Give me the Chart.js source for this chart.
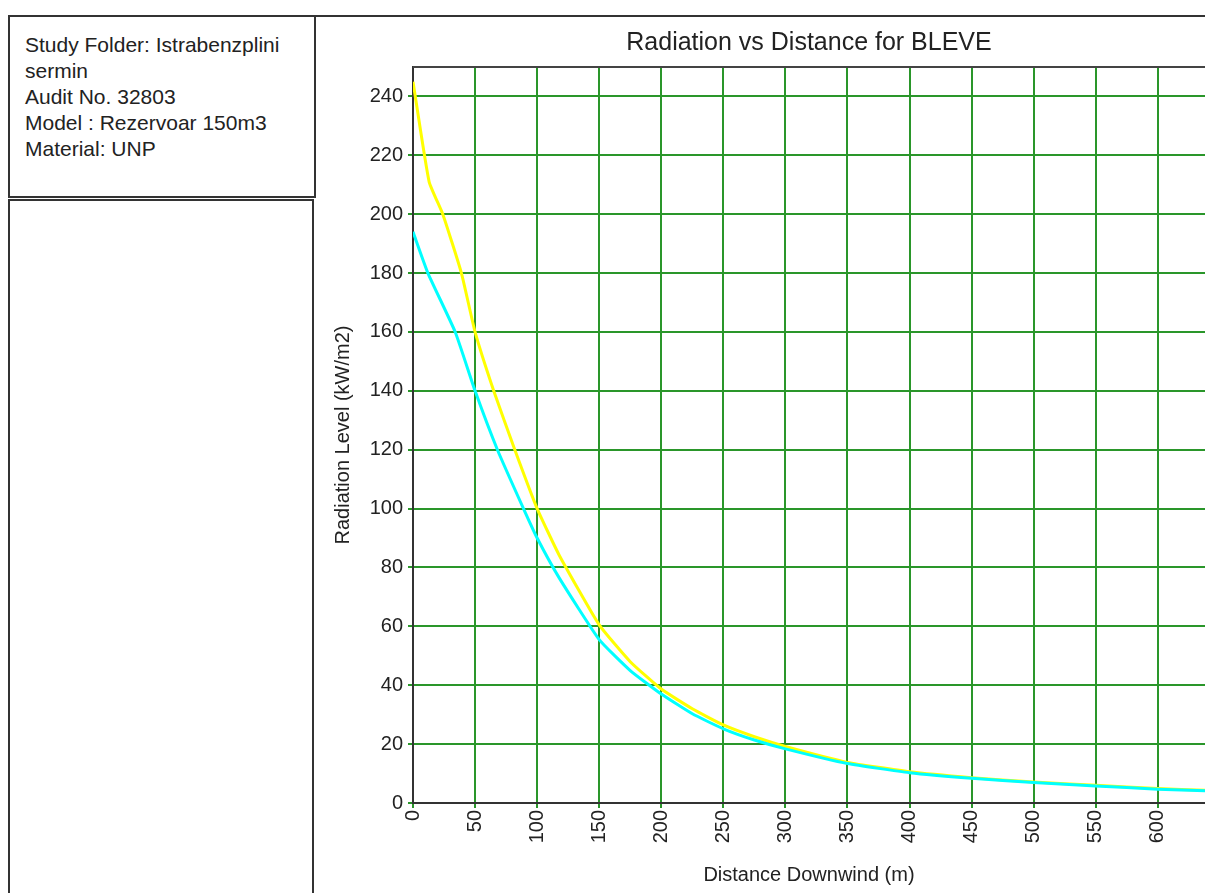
<!DOCTYPE html>
<html lang="en">

<head>
    <meta charset="UTF-8" />
    <title>Radiation vs Distance for BLEVE</title>
    <script src="https://cdn.jsdelivr.net/npm/chart.js"></script>
    <style>
        body {
            margin: 0;
            width: 1205px;
            height: 893px;
            overflow: hidden;
            position: relative;
            background: #fff;
            font-family: "Liberation Sans", Arial, sans-serif;
            color: #222;
        }

        .top-line {
            position: absolute;
            left: 8px;
            top: 15px;
            width: 1197px;
            border-top: 2px solid #333;
        }

        .info-box {
            position: absolute;
            box-sizing: border-box;
            left: 8px;
            top: 15px;
            width: 308px;
            height: 183px;
            border-left: 2px solid #333;
            border-right: 2px solid #333;
            border-bottom: 2px solid #333;
        }

        .info-box p {
            margin: 0;
            position: absolute;
            left: 15px;
            top: 17px;
            font-size: 21px;
            line-height: 26px;
        }

        .empty-box {
            position: absolute;
            box-sizing: border-box;
            left: 8px;
            top: 199px;
            width: 306px;
            height: 720px;
            border-left: 2px solid #333;
            border-right: 2px solid #333;
            border-top: 2px solid #333;
        }

        /* title centred over the plot area */
        .chart-title {
            position: absolute;
            left: 413px;
            top: 26px;
            width: 792px;
            text-align: center;
            font-size: 25px;
            line-height: 30px;
            white-space: nowrap;
        }

        .chart-box {
            position: absolute;
            left: 316px;
            top: 17px;
            width: 889px;
            height: 876px;
        }
    </style>
</head>

<body>
    <div class="top-line"></div>

    <!-- study info -->
    <div class="info-box">
        <p>Study Folder: Istrabenzplini<br>sermin<br>Audit No. 32803<br>Model : Rezervoar 150m3<br>Material: UNP</p>
    </div>
    <div class="empty-box"></div>

    <div class="chart-box">
        <canvas id="radiation_chart"></canvas>
    </div>
    <div class="chart-title">Radiation vs Distance for BLEVE</div>

    <script>
        // values
        const yellowDistance = [0, 13, 24, 39, 50, 65, 82, 100, 118, 150, 175, 200, 225, 250, 275, 300, 350, 400, 450, 500, 550, 600, 638];
        const yellowRadiation = [245, 211, 200, 180, 160, 140, 120, 100, 84, 60.5, 48, 38.7, 32, 26.5, 22.5, 19.2, 13.8, 10.6, 8.6, 7.1, 6.0, 4.9, 4.3];

        const cyanDistance = [0, 12, 34, 50, 68, 89, 100, 118, 150, 175, 200, 225, 250, 275, 300, 350, 400, 450, 500, 550, 600, 638];
        const cyanRadiation = [194, 180, 160, 140, 120, 100, 90, 76.3, 55.5, 45, 37, 30.3, 25.2, 21.4, 18.4, 13.4, 10.3, 8.4, 7.0, 5.8, 4.7, 4.2];

        const xTickValues = [0, 50, 100, 150, 200, 250, 300, 350, 400, 450, 500, 550, 600];
        const yTickValues = [0, 20, 40, 60, 80, 100, 120, 140, 160, 180, 200, 220, 240];

        const xMax = 638;
        const yMax = 250;

        const gridGreen = '#2a962a';
        const axisDark = '#333';
        const fontFamily = '"Liberation Sans", Arial, sans-serif';

        function toPoints(xs, ys) {
            return xs.map((x, i) => ({ x: x, y: ys[i] }));
        }

        // dark line along the top of the plot area
        const topBorder = {
            id: 'topBorder',
            afterDatasetsDraw(chart) {
                const { ctx, chartArea } = chart;
                ctx.save();
                ctx.strokeStyle = '#444';
                ctx.lineWidth = 2;
                ctx.beginPath();
                ctx.moveTo(chartArea.left, chartArea.top);
                ctx.lineTo(chartArea.right, chartArea.top);
                ctx.stroke();
                ctx.restore();
            }
        };

        const data = {
            datasets: [{
                label: 'Cyan',
                data: toPoints(cyanDistance, cyanRadiation),
                borderColor: '#00ffff',
                borderWidth: 3,
                pointRadius: 0,
                tension: 0.15
            }, {
                label: 'Yellow',
                data: toPoints(yellowDistance, yellowRadiation),
                borderColor: '#ffff00',
                borderWidth: 3,
                pointRadius: 0,
                tension: 0.15
            }]
        };

        const config = {
            type: 'line',
            data: data,
            plugins: [topBorder],
            options: {
                responsive: true,
                maintainAspectRatio: false,
                animation: false,
                layout: { padding: { top: 50 } },
                plugins: {
                    legend: { display: false },
                    tooltip: { enabled: false }
                },
                scales: {
                    x: {
                        type: 'linear',
                        min: 0,
                        max: xMax,
                        afterBuildTicks: scale => { scale.ticks = xTickValues.map(v => ({ value: v })); },
                        afterFit: scale => { scale.height = 90; },
                        grid: { color: gridGreen, lineWidth: 2, tickLength: 5 },
                        border: { color: axisDark, width: 2 },
                        ticks: {
                            color: '#222',
                            font: { family: fontFamily, size: 20 },
                            minRotation: 90,
                            maxRotation: 90,
                            padding: 2
                        },
                        title: {
                            display: true,
                            text: 'Distance Downwind (m)',
                            color: '#222',
                            font: { family: fontFamily, size: 20 },
                            padding: { top: 6, bottom: 6 }
                        }
                    },
                    y: {
                        min: 0,
                        max: yMax,
                        afterBuildTicks: scale => { scale.ticks = yTickValues.map(v => ({ value: v })); },
                        afterFit: scale => { scale.width = 97; },
                        grid: { color: gridGreen, lineWidth: 2, tickLength: 5 },
                        border: { color: axisDark, width: 2 },
                        ticks: {
                            color: '#222',
                            font: { family: fontFamily, size: 20 },
                            padding: 5
                        },
                        title: {
                            display: true,
                            text: 'Radiation Level (kW/m2)',
                            color: '#222',
                            font: { family: fontFamily, size: 20 },
                            padding: { top: 15, bottom: 0 }
                        }
                    }
                }
            }
        };

        new Chart(document.getElementById('radiation_chart'), config);
    </script>
</body>

</html>
